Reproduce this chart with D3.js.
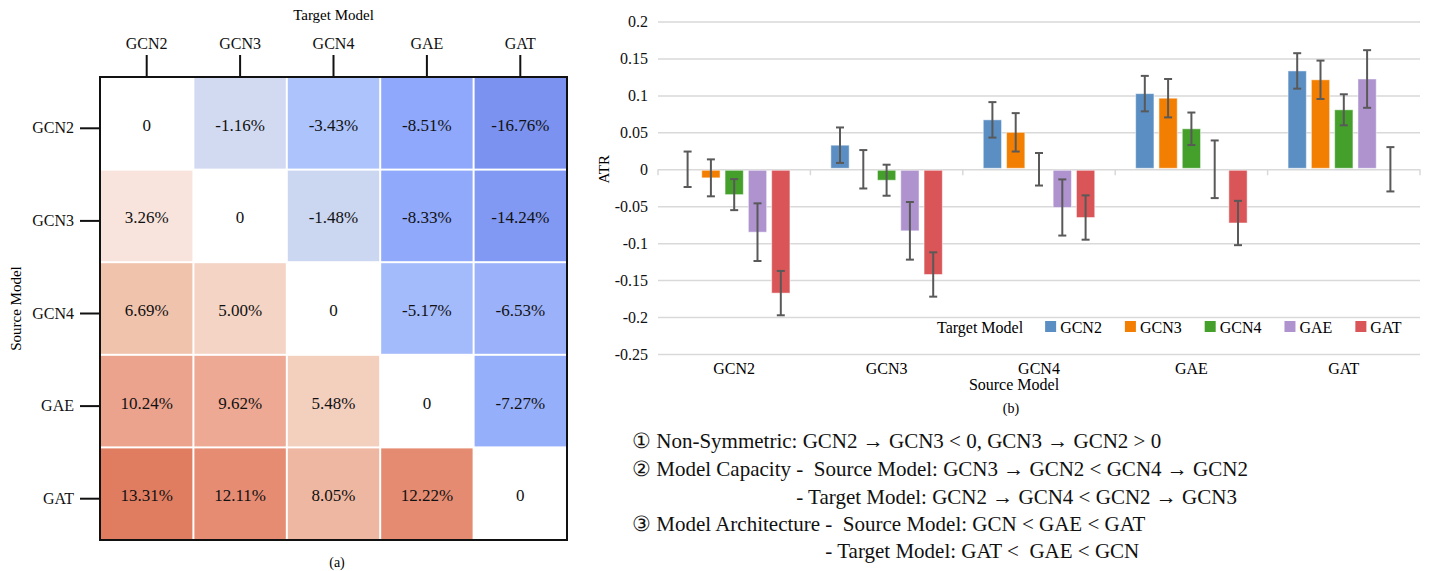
<!DOCTYPE html>
<html>
<head>
<meta charset="utf-8">
<script src="https://cdn.jsdelivr.net/npm/d3@7"></script>
<style>
  body { margin: 0; background: #fff; }
  svg text { font-family: "Liberation Serif", "DejaVu Serif", serif; }
</style>
</head>
<body>
<svg id="chart" width="1429" height="571" font-family="Liberation Serif"></svg>
<script>
const models = ["GCN2", "GCN3", "GCN4", "GAE", "GAT"];

// ATR in percent, rows = source model, cols = target model
const atrGCN2 = [0, -1.16, -3.43, -8.51, -16.76];
const atrGCN3 = [3.26, 0, -1.48, -8.33, -14.24];
const atrGCN4 = [6.69, 5.0, 0, -5.17, -6.53];
const atrGAE = [10.24, 9.62, 5.48, 0, -7.27];
const atrGAT = [13.31, 12.11, 8.05, 12.22, 0];
const atr = [atrGCN2, atrGCN3, atrGCN4, atrGAE, atrGAT];

// error bar half-widths (ATR units), same layout
const errGCN2 = [0.024, 0.025, 0.021, 0.039, 0.030];
const errGCN3 = [0.024, 0.026, 0.021, 0.039, 0.030];
const errGCN4 = [0.024, 0.026, 0.022, 0.038, 0.030];
const errGAE = [0.024, 0.026, 0.022, 0.039, 0.030];
const errGAT = [0.024, 0.026, 0.021, 0.039, 0.030];
const errs = [errGCN2, errGCN3, errGCN4, errGAE, errGAT];

const yTicks = [0.2, 0.15, 0.1, 0.05, 0, -0.05, -0.1, -0.15, -0.2, -0.25];

const notes = [
  "\u2460 Non-Symmetric: GCN2 \u2192 GCN3 < 0, GCN3 \u2192 GCN2 > 0",
  "\u2461 Model Capacity -  Source Model: GCN3 \u2192 GCN2 < GCN4 \u2192 GCN2",
  "- Target Model: GCN2 \u2192 GCN4 < GCN2 \u2192 GCN3",
  "\u2462 Model Architecture -  Source Model: GCN < GAE < GAT",
  "- Target Model: GAT <  GAE < GCN",
];

const svg = d3.select("#chart");
const serif = "Liberation Serif";

// ---------- (a) heatmap ----------
const hm = { left: 100, right: 567, top: 77, bottom: 540 };

const xh = d3.scaleBand().domain(models).range([hm.left, hm.right]);
const yh = d3.scaleBand().domain(models).range([hm.top, hm.bottom]);

const posColor = d3.scaleLinear()
  .domain([0, 3.3, 6.7, 10.2, 13.3])
  .range(["#ffffff", "#f8e4dc", "#f0c3ad", "#eca48f", "#e07d61"]);
const negColor = d3.scaleLinear()
  .domain([0, 1.2, 3.4, 8.5, 16.8])
  .range(["#ffffff", "#cfd9f0", "#adc3fb", "#8fa8fb", "#7b92f0"]);
const cellColor = (v) => (v >= 0 ? posColor(v) : negColor(-v));

const cells = [];
atr.forEach((row, i) =>
  row.forEach((v, j) => cells.push({ src: models[i], tgt: models[j], v }))
);

const gh = svg.append("g").attr("font-family", serif);

gh.selectAll("rect.cell")
  .data(cells)
  .enter()
  .append("rect")
  .attr("class", "cell")
  .attr("x", (d) => xh(d.tgt) + 1)
  .attr("y", (d) => yh(d.src) + 1)
  .attr("width", xh.bandwidth() - 2)
  .attr("height", yh.bandwidth() - 2)
  .attr("fill", (d) => cellColor(d.v));

gh.selectAll("text.val")
  .data(cells)
  .enter()
  .append("text")
  .attr("class", "val")
  .attr("x", (d) => xh(d.tgt) + xh.bandwidth() / 2)
  .attr("y", (d) => yh(d.src) + yh.bandwidth() / 2 + 2)
  .attr("text-anchor", "middle")
  .attr("dominant-baseline", "central")
  .attr("font-size", 17)
  .attr("fill", "#111")
  .text((d) => (d.v === 0 ? "0" : d.v.toFixed(2) + "%"));

gh.append("rect")
  .attr("x", hm.left)
  .attr("y", hm.top)
  .attr("width", hm.right - hm.left)
  .attr("height", hm.bottom - hm.top)
  .attr("fill", "none")
  .attr("stroke", "#111")
  .attr("stroke-width", 2);

// top axis
const topAxis = gh.append("g")
  .attr("transform", `translate(0,${hm.top})`)
  .call(d3.axisTop(xh).tickSize(22).tickPadding(6));
topAxis.attr("font-family", serif);
topAxis.select(".domain").remove();
topAxis.selectAll("line").attr("stroke", "#111").attr("stroke-width", 2);
topAxis.selectAll("text").attr("font-size", 16).attr("fill", "#111");

// left axis
const leftAxis = gh.append("g")
  .attr("transform", `translate(${hm.left},5)`)
  .call(d3.axisLeft(yh).tickSize(20).tickPadding(6));
leftAxis.attr("font-family", serif);
leftAxis.select(".domain").remove();
leftAxis.selectAll("line").attr("stroke", "#111").attr("stroke-width", 2);
leftAxis.selectAll("text").attr("font-size", 16).attr("fill", "#111");

gh.append("text")
  .attr("x", (hm.left + hm.right) / 2)
  .attr("y", 15)
  .attr("text-anchor", "middle")
  .attr("dominant-baseline", "central")
  .attr("font-size", 15)
  .text("Target Model");

gh.append("text")
  .attr("transform", `translate(16,${(hm.top + hm.bottom) / 2}) rotate(-90)`)
  .attr("text-anchor", "middle")
  .attr("dominant-baseline", "central")
  .attr("font-size", 15)
  .text("Source Model");

gh.append("text")
  .attr("x", 337)
  .attr("y", 562)
  .attr("text-anchor", "middle")
  .attr("dominant-baseline", "central")
  .attr("font-size", 14)
  .text("(a)");

// ---------- (b) bar chart ----------
const bc = { left: 658, right: 1420, top: 21.5, bottom: 354 };
const seriesColors = d3.scaleOrdinal()
  .domain(models)
  .range(["#5b8ec3", "#f37f02", "#44a02b", "#ae93cf", "#d95558"]);

const x0 = d3.scaleBand().domain(models).range([bc.left, bc.right]).padding(0);
const x1 = d3.scaleBand().domain(models).range([0, x0.bandwidth()])
  .paddingInner(0.215).paddingOuter(0.878);
const y = d3.scaleLinear().domain([-0.25, 0.2]).range([bc.bottom, bc.top]);

const gb = svg.append("g").attr("font-family", serif);

// gridlines + y labels
const yAxis = gb.append("g")
  .attr("transform", `translate(${bc.left},0)`)
  .call(d3.axisLeft(y).tickValues(yTicks).tickSize(-(bc.right - bc.left)).tickPadding(10)
    .tickFormat((d) => String(+d.toFixed(2))));
yAxis.attr("font-family", serif);
yAxis.select(".domain").remove();
yAxis.selectAll("line").attr("stroke", "#d9d9d9").attr("stroke-width", 1.5);
yAxis.selectAll("text").attr("font-size", 16).attr("fill", "#111");

// group separators on zero line
gb.selectAll("line.sep")
  .data(d3.range(models.length + 1))
  .enter()
  .append("line")
  .attr("class", "sep")
  .attr("x1", (i) => bc.left + i * x0.bandwidth())
  .attr("x2", (i) => bc.left + i * x0.bandwidth())
  .attr("y1", y(0))
  .attr("y2", y(0) + 6)
  .attr("stroke", "#d9d9d9")
  .attr("stroke-width", 1.5);

const bars = [];
atr.forEach((row, i) =>
  row.forEach((v, j) =>
    bars.push({ src: models[i], tgt: models[j], v: v / 100, e: errs[i][j] })
  )
);

gb.selectAll("rect.bar")
  .data(bars.filter((d) => d.v !== 0))
  .enter()
  .append("rect")
  .attr("class", "bar")
  .attr("x", (d) => x0(d.src) + x1(d.tgt))
  .attr("y", (d) => y(Math.max(0, d.v)) + (d.v < 0 ? 1 : 0))
  .attr("width", x1.bandwidth())
  .attr("height", (d) => Math.abs(y(d.v) - y(0)) - 1)
  .attr("fill", (d) => seriesColors(d.tgt))
  .attr("stroke", "#ffffff")
  .attr("stroke-opacity", 0.5)
  .attr("stroke-width", 1);

const eb = gb.selectAll("g.err")
  .data(bars)
  .enter()
  .append("g")
  .attr("class", "err")
  .attr("stroke", "#595959")
  .attr("stroke-width", 2);

const cx = (d) => x0(d.src) + x1(d.tgt) + x1.bandwidth() / 2;
eb.append("line")
  .attr("x1", cx).attr("x2", cx)
  .attr("y1", (d) => y(d.v + d.e)).attr("y2", (d) => y(d.v - d.e));
eb.append("line")
  .attr("x1", (d) => cx(d) - 4).attr("x2", (d) => cx(d) + 4)
  .attr("y1", (d) => y(d.v + d.e)).attr("y2", (d) => y(d.v + d.e));
eb.append("line")
  .attr("x1", (d) => cx(d) - 4).attr("x2", (d) => cx(d) + 4)
  .attr("y1", (d) => y(d.v - d.e)).attr("y2", (d) => y(d.v - d.e));

// x labels
gb.selectAll("text.xl")
  .data(models)
  .enter()
  .append("text")
  .attr("class", "xl")
  .attr("x", (d) => x0(d) + x0.bandwidth() / 2)
  .attr("y", 368)
  .attr("text-anchor", "middle")
  .attr("dominant-baseline", "central")
  .attr("font-size", 16)
  .text((d) => d);

gb.append("text")
  .attr("x", 1014).attr("y", 384)
  .attr("text-anchor", "middle").attr("dominant-baseline", "central")
  .attr("font-size", 16).text("Source Model");

gb.append("text")
  .attr("x", 1011).attr("y", 408)
  .attr("text-anchor", "middle").attr("dominant-baseline", "central")
  .attr("font-size", 14).text("(b)");

gb.append("text")
  .attr("transform", `translate(604,${y(0)}) rotate(-90)`)
  .attr("text-anchor", "middle").attr("dominant-baseline", "central")
  .attr("font-size", 15).text("ATR");

// legend
const lg = gb.append("g").attr("transform", "translate(937,327)");
const lt = lg.append("text")
  .attr("x", 0).attr("y", 0)
  .attr("dominant-baseline", "central")
  .attr("font-size", 16).text("Target Model");
let lx = lt.node().getComputedTextLength() + 22;
models.forEach((m) => {
  lg.append("rect")
    .attr("x", lx).attr("y", -6)
    .attr("width", 11).attr("height", 11)
    .attr("fill", seriesColors(m));
  const t = lg.append("text")
    .attr("x", lx + 15).attr("y", 0)
    .attr("dominant-baseline", "central")
    .attr("font-size", 16).text(m);
  lx += 15 + t.node().getComputedTextLength() + 23;
});

// ---------- notes ----------
const nx = 632;
const nys = [441, 469, 497, 524, 551];
const noteG = svg.append("g")
  .attr("font-family", serif)
  .attr("font-size", 21)
  .attr("fill", "#111")
  .style("white-space", "pre");
const noteNodes = notes.map((s, i) =>
  noteG.append("text")
    .attr("x", nx)
    .attr("y", nys[i])
    .attr("dominant-baseline", "central")
    .attr("xml:space", "preserve")
    .style("white-space", "pre")
    .text(s)
);
// align the continuation lines with the hyphen of the line above
[[1, 2], [3, 4]].forEach(([a, b]) => {
  const node = noteNodes[a].node();
  const idx = notes[a].indexOf("-");
  const off = node.getSubStringLength(0, idx);
  noteNodes[b].attr("x", nx + off);
});
</script>
</body>
</html>
